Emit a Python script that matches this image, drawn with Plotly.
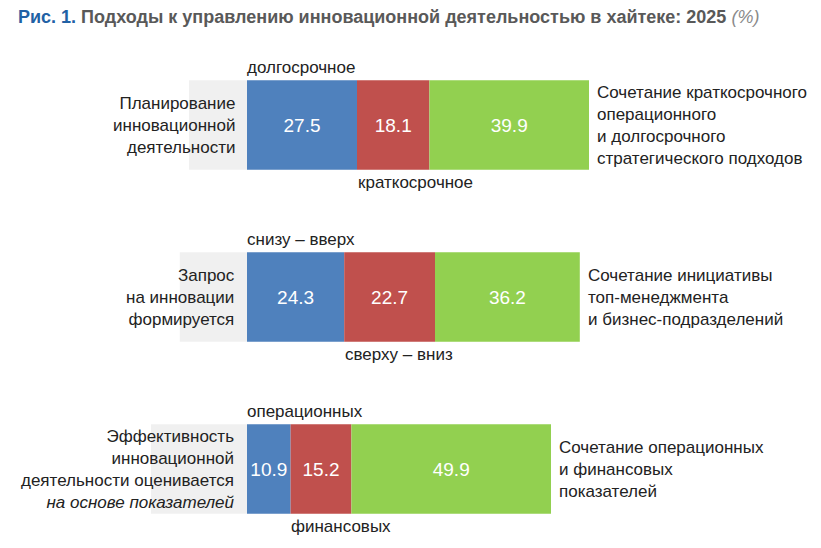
import plotly.graph_objects as go

# Данные (%)
rows = [0, 1, 2]
first = [27.5, 24.3, 10.9]     # синий
second = [18.1, 22.7, 15.2]    # красный
combined = [39.9, 36.2, 49.9]  # зелёный
other = [14.5, 16.8, 24.0]     # остаток до 100, серый слева

left_labels = [
    "Планирование<br>инновационной<br>деятельности",
    "Запрос<br>на инновации<br>формируется",
    "Эффективность<br>инновационной<br>деятельности оценивается<br><i>на основе показателей</i>",
]
top_labels = ["долгосрочное", "снизу – вверх", "операционных"]
bottom_labels = ["краткосрочное", "сверху – вниз", "финансовых"]
right_labels = [
    "Сочетание краткосрочного<br>операционного<br>и долгосрочного<br>стратегического подходов",
    "Сочетание инициативы<br>топ-менеджмента<br>и бизнес-подразделений",
    "Сочетание операционных<br>и финансовых<br>показателей",
]

FONT = "Liberation Sans, Arial, sans-serif"
bar_w = 0.52

fig = go.Figure()
fig.add_trace(go.Bar(y=rows, x=[-v for v in other], orientation="h", width=bar_w,
                     marker=dict(color="#f0f0f0", line=dict(width=0)), hoverinfo="skip"))
for vals, col in [(first, "#4f81bd"), (second, "#c0504d"), (combined, "#92d050")]:
    fig.add_trace(go.Bar(
        y=rows, x=vals, orientation="h", width=bar_w,
        marker=dict(color=col, line=dict(width=0)),
        text=[f"{v:.1f}" for v in vals], textposition="inside",
        insidetextanchor="middle", constraintext="none",
        textfont=dict(color="white", size=19, family=FONT),
    ))

anns = []
for i in rows:
    total = first[i] + second[i] + combined[i]
    anns.append(dict(x=-2.6, y=i, text=left_labels[i], xanchor="right", align="right",
                     yanchor="middle", font=dict(size=17, color="#222222")))
    anns.append(dict(x=-0.5, y=i - bar_w / 2, text=top_labels[i], xanchor="left",
                     yanchor="bottom", yshift=1, font=dict(size=17, color="#222222")))
    anns.append(dict(x=first[i] - 0.3, y=i + bar_w / 2, text=bottom_labels[i], xanchor="left",
                     yanchor="top", yshift=-1, font=dict(size=17, color="#222222")))
    anns.append(dict(x=total + 1.6, y=i, text=right_labels[i], xanchor="left", align="left",
                     yanchor="middle", font=dict(size=17, color="#222222")))
for a in anns:
    a.update(xref="x", yref="y", showarrow=False)
    a["font"]["family"] = FONT

anns.append(dict(
    xref="paper", yref="paper", x=8 / 813, y=1 - 9 / 540, xanchor="left", yanchor="middle",
    showarrow=False,
    text=("<b><span style='color:#2161a5'>Рис. 1.</span> Подходы к управлению инновационной "
          "деятельностью в хайтеке: 2025</b> <i><span style='color:#8a8a8a'>(%)</span></i>"),
    font=dict(size=18, color="#595959", family=FONT),
))

fig.update_layout(
    width=813, height=540, barmode="relative", showlegend=False,
    margin=dict(l=0, r=0, t=0, b=0),
    paper_bgcolor="white", plot_bgcolor="white",
    xaxis=dict(range=[-59.75, 143.5], visible=False, fixedrange=True),
    yaxis=dict(range=[2.4593, -0.6802], visible=False, fixedrange=True),
    annotations=anns, font=dict(family=FONT),
)

fig.write_html("out.html")
